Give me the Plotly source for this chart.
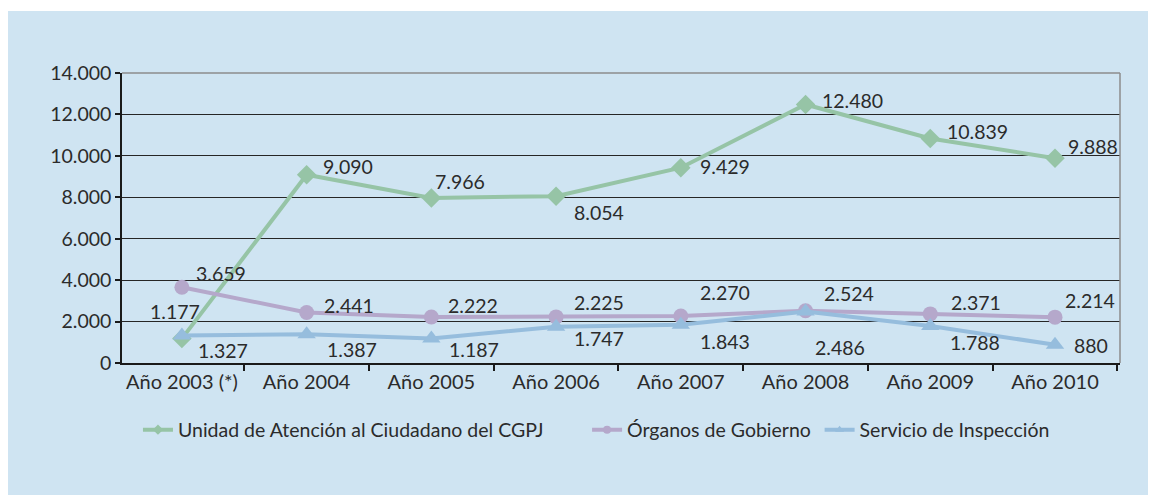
import plotly.graph_objects as go

# --- datos ---
years = ["Año 2003 (*)", "Año 2004", "Año 2005", "Año 2006",
         "Año 2007", "Año 2008", "Año 2009", "Año 2010"]

unidad = [1177, 9090, 7966, 8054, 9429, 12480, 10839, 9888]
organos = [3659, 2441, 2222, 2225, 2270, 2524, 2371, 2214]
servicio = [1327, 1387, 1187, 1747, 1843, 2486, 1788, 880]

names = ["Unidad de Atención al Ciudadano del CGPJ",
         "Órganos de Gobierno",
         "Servicio de Inspección"]

# desplazamiento de las etiquetas (px: izquierda del texto, centro vertical hacia abajo)
off_unidad = [(-32, -27), (16, -8), (4, -16), (18, 16), (19, -1), (16, -4), (17, -7), (13, -12)]
off_organos = [(14, -14), (17, -7), (17, -11), (18, -14), (19, -23), (18, -17), (21, -11), (10, -17)]
off_servicio = [(16, 15), (20, 15), (18, 11), (18, 12), (19, 17), (9, 36), (20, 17), (19, 1)]

colors = ["#96c4a6", "#b5a8cb", "#96bddd"]
symbols = ["diamond", "circle", "triangle-up"]
sizes = [15, 15, 16]
legend_ids = ["legend", "legend2", "legend3"]
legend_x = [0.016, 0.466, 0.699]

FONT = "Lato, 'Open Sans', sans-serif"
TXT = "#2b2b2b"
FS = 19.5


def fmt(v):
    return f"{v:,}".replace(",", ".")


fig = go.Figure()
series = [unidad, organos, servicio]
offsets = [off_unidad, off_organos, off_servicio]

for vals, name, col, sym, sz in zip(series, names, colors, symbols, sizes):
    fig.add_trace(go.Scatter(
        x=years, y=vals, name=name, mode="lines+markers",
        line=dict(color=col, width=4),
        marker=dict(symbol=sym, size=sz, color=col),
        hoverinfo="skip", showlegend=False,
    ))

# entradas de leyenda con marcador pequeño
for name, col, sym, lg in zip(names, colors, symbols, legend_ids):
    fig.add_trace(go.Scatter(
        x=[None], y=[None], name=name, mode="lines+markers",
        line=dict(color=col, width=4),
        marker=dict(symbol=sym, size=8, color=col),
        legend=lg,
    ))

annotations = []
for vals, offs in zip(series, offsets):
    for yr, v, (dx, dy) in zip(years, vals, offs):
        annotations.append(dict(
            x=yr, y=v, text=fmt(v), showarrow=False,
            xanchor="left", yanchor="middle",
            xshift=dx - 2, yshift=-dy,
            font=dict(family=FONT, size=FS, color=TXT),
        ))

shapes = [
    # fondo azul del recuadro
    dict(type="rect", xref="paper", yref="paper", layer="below",
         x0=(6 - 122) / 998, x1=(1150 - 122) / 998,
         y0=(363 - 500) / 290, y1=(363 - 11) / 290,
         fillcolor="#cfe4f2", line=dict(width=0)),
    # borde gris superior y derecho
    dict(type="line", xref="paper", yref="paper", x0=0, x1=1, y0=1, y1=1,
         line=dict(color="#8c8c8c", width=1.5), layer="above"),
    dict(type="line", xref="paper", yref="paper", x0=1, x1=1, y0=0, y1=1,
         line=dict(color="#8c8c8c", width=1.5), layer="above"),
]

legends = {}
for lg, lx in zip(legend_ids, legend_x):
    legends[lg] = dict(orientation="h", x=lx, y=-0.231, xanchor="left", yanchor="middle",
                       bgcolor="rgba(0,0,0,0)", font=dict(family=FONT, size=FS, color=TXT),
                       itemwidth=30)

# la página deja 8 px de margen en el cuerpo: se compensa en tamaño y márgenes
fig.update_layout(
    width=1148, height=487,
    margin=dict(l=114, r=36, t=65, b=132),
    paper_bgcolor="white",
    plot_bgcolor="rgba(0,0,0,0)",
    font=dict(family=FONT, size=FS, color=TXT),
    showlegend=True,
    annotations=annotations,
    shapes=shapes,
    **legends,
)

fig.update_xaxes(
    type="category", tickson="boundaries",
    showline=True, linecolor="#1a1a1a", linewidth=1.5,
    ticks="outside", ticklen=6, tickcolor="#1a1a1a", tickwidth=1.5,
    showgrid=False, tickfont=dict(size=20),
)
fig.update_yaxes(
    range=[0, 14000], tickvals=[0, 2000, 4000, 6000, 8000, 10000, 12000, 14000],
    ticktext=["0", "2.000", "4.000", "6.000", "8.000", "10.000", "12.000", "14.000"],
    showline=True, linecolor="#1a1a1a", linewidth=1.5,
    ticks="outside", ticklen=5, tickcolor="#1a1a1a", tickwidth=1.5,
    showgrid=True, gridcolor="#262626", gridwidth=1.2,
    zeroline=False, tickfont=dict(size=FS),
)

fig.write_html("out.html")
